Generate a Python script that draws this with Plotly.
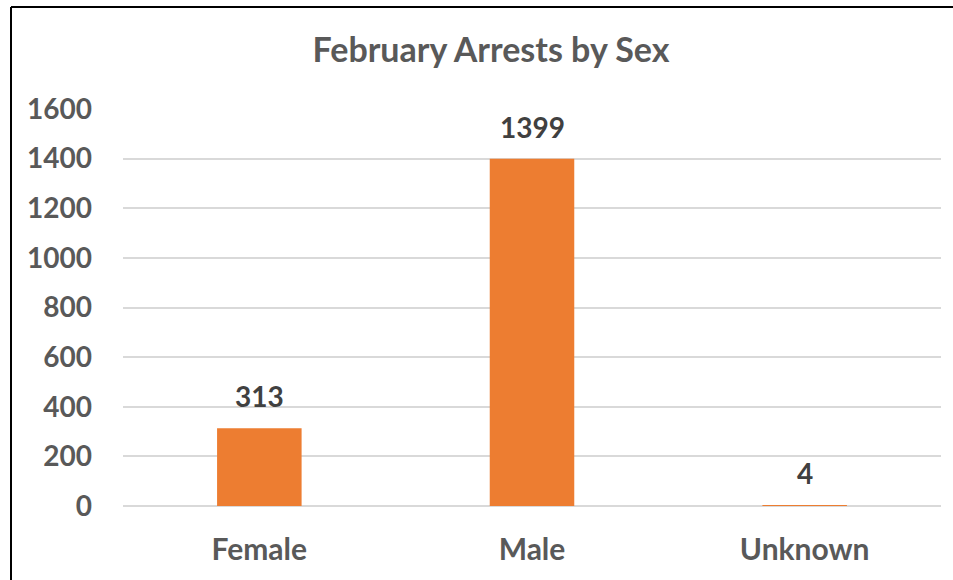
import plotly.graph_objects as go

# Arrest counts for February, by sex
categories = ["Female", "Male", "Unknown"]
arrests = [313, 1399, 4]
y_ticks = [0, 200, 400, 600, 800, 1000, 1200, 1400, 1600]

W, H = 953, 580
L, R, T, B = 123, 12, 109, 74
plot_w = W - L - R
plot_h = H - T - B


def px_x(px):
    return (px - L) / plot_w


def px_y(py):
    return (H - B - py) / plot_h


FONT = "Lato"
TICK_COLOR = "#595959"
LABEL_COLOR = "#404040"

fig = go.Figure(
    go.Bar(
        x=categories,
        y=arrests,
        marker=dict(color="#ED7D31", line=dict(width=0)),
        width=0.31,
        hoverinfo="x+y",
    )
)

# Value labels above each bar
for cat, val in zip(categories, arrests):
    fig.add_annotation(
        x=cat, y=val, text=f"<b>{val}</b>", showarrow=False,
        yanchor="bottom", yshift=13,
        font=dict(family=FONT, size=28, color=LABEL_COLOR),
    )

# Chart frame (left and top edges)
fig.add_shape(type="line", xref="paper", yref="paper",
              x0=px_x(11), x1=px_x(11), y0=px_y(7), y1=px_y(H + 5),
              line=dict(color="black", width=2))
fig.add_shape(type="line", xref="paper", yref="paper",
              x0=px_x(11), x1=px_x(W + 5), y0=px_y(7), y1=px_y(7),
              line=dict(color="black", width=2))

fig.update_layout(
    width=W, height=H,
    margin=dict(l=L, r=R, t=T, b=B),
    paper_bgcolor="white", plot_bgcolor="white",
    showlegend=False,
    title=dict(
        text="<b>February Arrests by Sex</b>",
        x=491 / W, xanchor="center", xref="container",
        y=1 - 50 / H, yanchor="middle", yref="container",
        font=dict(family=FONT, size=34, color=TICK_COLOR),
    ),
    font=dict(family=FONT),
)

fig.update_xaxes(
    showgrid=False, showline=False, zeroline=False,
    ticks="", ticklabelstandoff=23,
    tickfont=dict(family=FONT, size=30, color=TICK_COLOR),
    tickprefix="<b>", ticksuffix="</b>",
)
fig.update_yaxes(
    range=[0, 1600], tickvals=y_ticks,
    ticktext=[f"<b>{v}</b>" for v in y_ticks],
    showgrid=True, gridcolor="#D9D9D9", gridwidth=1.5,
    zeroline=True, zerolinecolor="#D9D9D9", zerolinewidth=1.5,
    showline=False, ticks="", ticklabelstandoff=30,
    tickfont=dict(family=FONT, size=28, color=TICK_COLOR),
)

fig.write_html("out.html")
